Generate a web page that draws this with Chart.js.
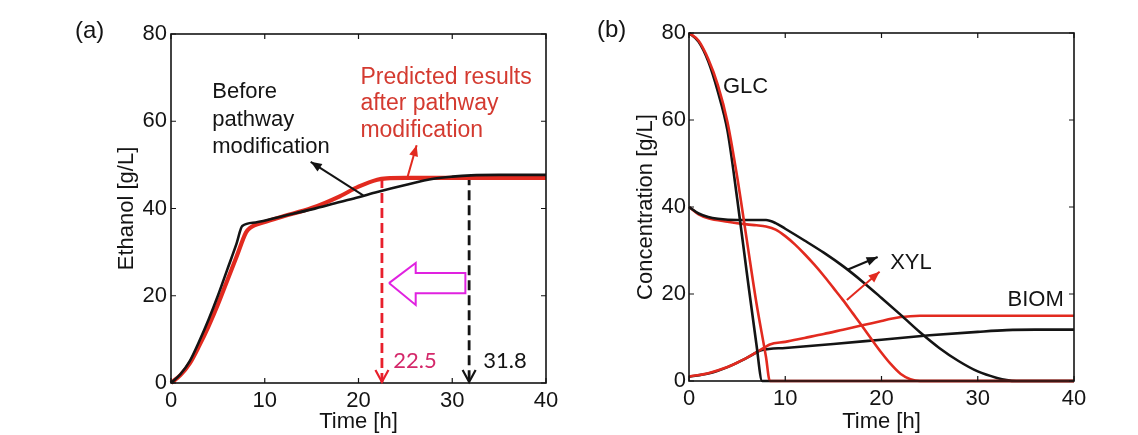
<!DOCTYPE html>
<html>
<head>
<meta charset="utf-8">
<script src="https://cdn.jsdelivr.net/npm/chart.js@4.4.0/dist/chart.umd.min.js"></script>
<style>
  body { margin: 0; background: #fff; width: 1138px; height: 435px; overflow: hidden; position: relative; }
  canvas { position: absolute; top: 0; }
  #chartA { left: 0; }
  #chartB { left: 569px; }
</style>
</head>
<body>
<canvas id="chartA" width="569" height="435"></canvas>
<canvas id="chartB" width="569" height="435"></canvas>
<script>
// ---- panel (a): ethanol ----
const ethTimeBefore = [0, 1, 2, 3, 4, 5, 6, 7, 7.6, 9, 12, 15, 18, 20, 22, 25, 28, 30, 32, 35, 40];
const ethBefore     = [0, 2, 5, 9.5, 14.5, 20, 26, 32, 36, 36.8, 38.3, 39.8, 41.5, 42.6, 43.8, 45.4, 46.8, 47.3, 47.6, 47.7, 47.7];
const ethTimeAfter  = [0, 1, 2, 3, 4, 5, 6, 7, 8, 8.4, 10, 12, 15, 18, 20, 22, 23, 25, 30, 40];
const ethAfter      = [0, 1.8, 4.5, 8.5, 13, 18, 23.5, 29, 34.5, 35.5, 36.9, 38.2, 40.1, 42.8, 45, 46.6, 46.9, 47, 47, 47];

// finishing times marked with dashed arrows
const dropTimes = [22.5, 31.8];
const dropTops  = [47, 47.6];

// hollow magenta arrow outline (time, ethanol)
const hollowArrowX = [23.25, 26.1, 26.1, 31.4, 31.4, 26.1, 26.1, 23.25];
const hollowArrowY = [22.9, 27.5, 25.2, 25.2, 20.6, 20.6, 17.9, 22.9];

// ---- panel (b): substrates and biomass ----
const glcTimeBefore = [0, 1, 2, 3, 4, 5, 6, 7, 7.6, 10, 20, 30, 40];
const glcBefore     = [80, 78, 73.5, 66.5, 57.5, 42, 25, 8.5, 0, 0, 0, 0, 0];
const glcTimeAfter  = [0, 1, 2, 3, 4, 5, 6, 7, 8, 8.4, 10, 20, 30, 40];
const glcAfter      = [80, 78.2, 74, 68, 59.5, 47, 32.5, 18, 5.5, 0, 0, 0, 0, 0];

const xylTimeBefore = [0, 1, 2, 3, 5, 8, 9, 10, 12, 14, 16, 18, 20, 22, 24, 26, 28, 30, 32, 33, 34, 40];
const xylBefore     = [40, 38.5, 37.7, 37.3, 37, 37, 36.3, 35, 32.3, 29.5, 26.4, 22.9, 19.1, 15.2, 11.2, 7.6, 4.6, 2.2, 0.7, 0.2, 0, 0];
const xylTimeAfter  = [0, 1, 2, 4, 6, 7, 8, 9, 10, 11, 12, 13, 14, 15, 16, 17, 18, 19, 20, 21, 22, 23, 24, 40];
const xylAfter      = [40, 38.3, 37.4, 36.6, 36, 35.8, 35.5, 34.8, 33.3, 31.4, 29.2, 26.8, 24.2, 21.4, 18.6, 15.6, 12.6, 9.5, 6.5, 3.8, 1.6, 0.4, 0, 0];

const biomTimeBefore = [0, 2, 4, 6, 7.6, 10, 15, 20, 25, 30, 33, 36, 40];
const biomBefore     = [1, 1.7, 3.2, 5.3, 7.1, 7.6, 8.5, 9.5, 10.5, 11.3, 11.7, 11.8, 11.8];
const biomTimeAfter  = [0, 2, 4, 5, 6, 7, 8, 8.4, 10, 12, 14, 16, 18, 20, 21, 22, 23, 24, 40];
const biomAfter      = [1, 1.8, 3.2, 4.2, 5.3, 6.6, 7.9, 8.4, 9, 9.9, 10.8, 11.8, 12.8, 13.8, 14.3, 14.7, 14.9, 15, 15];

const timeTicks = [0, 10, 20, 30, 40];
const concTicks = [0, 20, 40, 60, 80];

const BLACK = '#141414';
const RED = '#e22a1f';
const FONT = '"Liberation Sans", Arial, sans-serif';

function pts(xs, ys) {
    return xs.map((x, i) => ({ x: x, y: ys[i] }));
}

function curve(xs, ys, color, width) {
    return { data: pts(xs, ys), borderColor: color, borderWidth: width, clip: false };
}

// frame with MATLAB style inward ticks
const framePlugin = {
    id: 'frame',
    afterDatasetsDraw(chart) {
        const { ctx, chartArea: a, scales: { x, y } } = chart;
        ctx.save();
        ctx.strokeStyle = BLACK;
        ctx.lineWidth = 1.6;
        ctx.strokeRect(a.left, a.top, a.right - a.left, a.bottom - a.top);
        ctx.lineWidth = 1.2;
        ctx.beginPath();
        x.ticks.forEach(t => {
            const px = x.getPixelForValue(t.value);
            ctx.moveTo(px, a.bottom); ctx.lineTo(px, a.bottom - 5);
            ctx.moveTo(px, a.top); ctx.lineTo(px, a.top + 5);
        });
        y.ticks.forEach(t => {
            const py = y.getPixelForValue(t.value);
            ctx.moveTo(a.left, py); ctx.lineTo(a.left + 5, py);
            ctx.moveTo(a.right, py); ctx.lineTo(a.right - 5, py);
        });
        ctx.stroke();
        ctx.restore();
    }
};

function drawHead(ctx, x0, y0, x1, y1, len, half, filled) {
    const ang = Math.atan2(y1 - y0, x1 - x0);
    const bx = x1 - len * Math.cos(ang), by = y1 - len * Math.sin(ang);
    const nx = -Math.sin(ang) * half, ny = Math.cos(ang) * half;
    ctx.beginPath();
    ctx.moveTo(bx + nx, by + ny);
    ctx.lineTo(x1, y1);
    ctx.lineTo(bx - nx, by - ny);
    if (filled) { ctx.closePath(); ctx.fill(); } else { ctx.stroke(); }
}

const notesPlugin = {
    id: 'notes',
    afterDraw(chart, args, opts) {
        const { ctx, chartArea: a, scales: { x, y } } = chart;
        ctx.save();
        (opts.texts || []).forEach(t => {
            ctx.font = t.font || ('22px ' + FONT);
            ctx.fillStyle = t.color;
            ctx.textAlign = 'left';
            ctx.textBaseline = 'middle';
            const px = x.getPixelForValue(t.x), py = y.getPixelForValue(t.y);
            t.lines.forEach((line, i) => ctx.fillText(line, px, py + i * (t.lineHeight || 0)));
        });
        (opts.arrows || []).forEach(ar => {
            const x0 = x.getPixelForValue(ar.from[0]), y0 = y.getPixelForValue(ar.from[1]);
            const x1 = x.getPixelForValue(ar.to[0]), y1 = y.getPixelForValue(ar.to[1]);
            ctx.strokeStyle = ar.color;
            ctx.fillStyle = ar.color;
            ctx.lineWidth = ar.width;
            ctx.beginPath();
            ctx.moveTo(x0, y0); ctx.lineTo(x1, y1);
            ctx.stroke();
            drawHead(ctx, x0, y0, x1, y1, 11, 4.5, true);
        });
        (opts.heads || []).forEach(h => {
            const px = x.getPixelForValue(h.at[0]), py = y.getPixelForValue(h.at[1]);
            ctx.strokeStyle = h.color;
            ctx.lineWidth = 2.2;
            drawHead(ctx, px, py - 30, px, py - 1, 12, 6.5, false);
        });
        if (opts.panel) {
            ctx.font = '24px ' + FONT;
            ctx.fillStyle = BLACK;
            ctx.textAlign = 'left';
            ctx.textBaseline = 'middle';
            ctx.fillText(opts.panel.text, a.left - opts.panel.dx, a.top - 3);
        }
        ctx.restore();
    }
};

function makeOptions(cfg) {
    const tickFont = { family: FONT, size: 22 };
    return {
        responsive: false,
        animation: false,
        devicePixelRatio: 1,
        layout: { padding: cfg.padding },
        elements: {
            point: { radius: 0, hoverRadius: 0 },
            line: { cubicInterpolationMode: 'monotone', fill: false }
        },
        plugins: {
            legend: { display: false },
            tooltip: { enabled: false },
            notes: cfg.notes
        },
        scales: {
            x: {
                type: 'linear', min: 0, max: 40,
                afterBuildTicks: s => { s.ticks = timeTicks.map(v => ({ value: v })); },
                ticks: { font: tickFont, color: BLACK, padding: 5, maxRotation: 0 },
                grid: { display: false, drawTicks: false },
                border: { display: false },
                title: { display: true, text: 'Time [h]', font: tickFont, color: BLACK, padding: { top: 0, bottom: 0 } },
                afterFit: s => { s.height = cfg.xHeight; }
            },
            y: {
                type: 'linear', min: 0, max: 80,
                afterBuildTicks: s => { s.ticks = concTicks.map(v => ({ value: v })); },
                ticks: { font: tickFont, color: BLACK, padding: cfg.yTickPad },
                grid: { display: false, drawTicks: false },
                border: { display: false },
                title: { display: true, text: cfg.yTitle, font: tickFont, color: BLACK, padding: { top: 14, bottom: 0 } },
                afterFit: s => { s.width = cfg.yWidth; }
            }
        }
    };
}

// panel (a)
const dropDatasets = dropTimes.map((t, i) => ({
    data: pts([t, t], [dropTops[i], 0]),
    borderColor: i === 0 ? '#e8202c' : BLACK,
    borderWidth: 2.8,
    borderDash: [10, 5],
    cubicInterpolationMode: 'default',
    tension: 0,
    clip: false
}));

new Chart(document.getElementById('chartA'), {
    type: 'line',
    data: {
        datasets: [
            curve(ethTimeBefore, ethBefore, BLACK, 2.6),
            curve(ethTimeAfter, ethAfter, RED, 4.2),
            ...dropDatasets,
            {
                data: pts(hollowArrowX, hollowArrowY),
                borderColor: '#e022e0',
                borderWidth: 2,
                cubicInterpolationMode: 'default',
                tension: 0
            }
        ]
    },
    options: makeOptions({
        padding: { left: 100, top: 34, right: 23, bottom: 0 },
        xHeight: 52, yWidth: 71, yTickPad: 4,
        yTitle: 'Ethanol [g/L]',
        notes: {
            panel: { text: '(a)', dx: 96 },
            texts: [
                { lines: ['Before', 'pathway', 'modification'], x: 4.4, y: 66.7, color: BLACK, lineHeight: 27.5 },
                { lines: ['Predicted results', 'after pathway', 'modification'], x: 20.2, y: 70.1, color: '#d43a30', lineHeight: 26.5, font: '23px ' + FONT },
                { lines: ['22.5'], x: 23.7, y: 5, color: '#d4286a', font: '22px Lato, sans-serif' },
                { lines: ['31.8'], x: 33.3, y: 5, color: BLACK, font: '22px Lato, sans-serif' }
            ],
            arrows: [
                { from: [20.5, 43], to: [14.9, 50.7], color: BLACK, width: 2 },
                { from: [25.2, 47], to: [26.2, 54.5], color: RED, width: 2 }
            ],
            heads: [
                { at: [22.5, 0], color: '#e8202c' },
                { at: [31.8, 0], color: BLACK }
            ]
        }
    }),
    plugins: [framePlugin, notesPlugin]
});

// panel (b)
new Chart(document.getElementById('chartB'), {
    type: 'line',
    data: {
        datasets: [
            curve(glcTimeAfter, glcAfter, RED, 2.6),
            curve(glcTimeBefore, glcBefore, BLACK, 2.6),
            curve(xylTimeBefore, xylBefore, BLACK, 2.6),
            curve(xylTimeAfter, xylAfter, RED, 2.6),
            curve(biomTimeAfter, biomAfter, RED, 2.6),
            curve(biomTimeBefore, biomBefore, BLACK, 2.6)
        ]
    },
    options: makeOptions({
        padding: { left: 50, top: 33, right: 64, bottom: 0 },
        xHeight: 54, yWidth: 70, yTickPad: 3,
        yTitle: 'Concentration [g/L]',
        notes: {
            panel: { text: '(b)', dx: 92 },
            texts: [
                { lines: ['GLC'], x: 3.53, y: 67.6, color: BLACK },
                { lines: ['XYL'], x: 20.9, y: 27.1, color: BLACK },
                { lines: ['BIOM'], x: 33.1, y: 18.6, color: BLACK }
            ],
            arrows: [
                { from: [16.4, 25.5], to: [19.6, 28.5], color: BLACK, width: 2.2 },
                { from: [16.4, 18.6], to: [19.8, 25.1], color: RED, width: 2 }
            ]
        }
    }),
    plugins: [framePlugin, notesPlugin]
});
</script>
</body>
</html>
